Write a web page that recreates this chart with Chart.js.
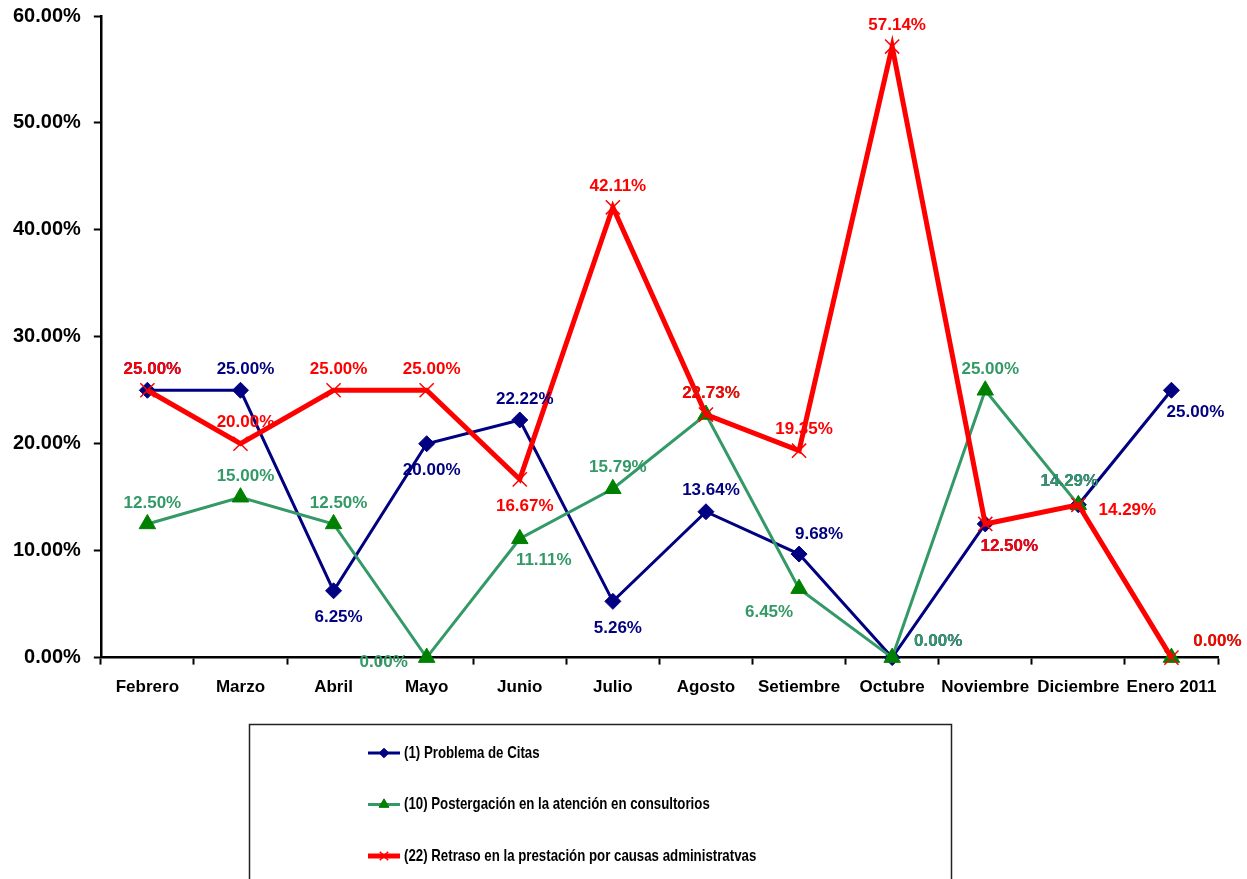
<!DOCTYPE html>
<html>
<head>
<meta charset="utf-8">
<title>Reclamos por mes</title>
<script src="https://cdn.jsdelivr.net/npm/chart.js@4.4.1/dist/chart.umd.min.js"></script>
<style>
    body { margin: 0; background: #fff; overflow: hidden; }
    #wrap { position: relative; width: 1247px; height: 888px; margin-top: -9px; }
</style>
</head>
<body>
<div id="wrap"><canvas id="reclamosChart"></canvas></div>
<script>
// Data
const months = ['Febrero', 'Marzo', 'Abril', 'Mayo', 'Junio', 'Julio', 'Agosto',
    'Setiembre', 'Octubre', 'Noviembre', 'Diciembre', 'Enero 2011'];
const citas = [25.00, 25.00, 6.25, 20.00, 22.22, 5.26, 13.64, 9.68, 0.00, 12.50, 14.29, 25.00];
const postergacion = [12.50, 15.00, 12.50, 0.00, 11.11, 15.79, 22.73, 6.45, 0.00, 25.00, 14.29, 0.00];
const retraso = [25.00, 20.00, 25.00, 25.00, 16.67, 42.11, 22.73, 19.35, 57.14, 12.50, 14.29, 0.00];
const yMin = 0, yMax = 60, yStep = 10;

// where each value label sits relative to its point (like Excel's label position)
const citasPos = ['t', 't', 'b', 'b', 't', 'b', 't', 'tr', 'r', 'br', 'tl', 'br'];
const postergacionPos = ['t', 't', 't', 'l', 'br', 't', 't', 'bl', 'r', 't', 'tl', 'r'];
const retrasoPos = ['t', 't', 't', 't', 'b', 't', 't', 't', 't', 'br', 'rb', 'r'];

const labelOffsets = {
    t: [5, -21], b: [5, 27], tr: [20, -20], br: [24, 22], r: [46, -16],
    rb: [49, 6], l: [-43, 5], bl: [-30, 24], tl: [-9, -23]
};

const FONT = "'Liberation Sans', Arial, sans-serif";

Chart.defaults.font.family = FONT;
Chart.defaults.color = '#000';

function pct(v) {
    return v.toFixed(2) + '%';
}

// value labels drawn next to each point
const valueLabels = {
    id: 'valueLabels',
    afterDatasetsDraw(chart) {
        const ctx = chart.ctx;
        ctx.save();
        ctx.font = 'bold 17px ' + FONT;
        ctx.textAlign = 'center';
        ctx.textBaseline = 'middle';
        chart.data.datasets.forEach((ds, i) => {
            const meta = chart.getDatasetMeta(i);
            ctx.fillStyle = ds.labelColor;
            meta.data.forEach((pt, j) => {
                const off = labelOffsets[ds.labelPos[j]];
                ctx.fillText(pct(ds.data[j]), pt.x + off[0], pt.y + off[1]);
            });
        });
        ctx.restore();
    }
};

// boxed legend under the chart, one entry per line
const boxLegend = {
    id: 'boxLegend',
    afterDraw(chart) {
        const ctx = chart.ctx;
        const top = 733.5;
        ctx.save();
        ctx.strokeStyle = '#222';
        ctx.lineWidth = 1.5;
        ctx.strokeRect(249.5, top, 702, 200);
        ctx.textBaseline = 'middle';
        chart.data.datasets.forEach((ds, i) => {
            const y = top + 28.5 + i * 51.5;
            ctx.strokeStyle = ds.borderColor;
            ctx.lineWidth = ds.legendLine;
            ctx.beginPath();
            ctx.moveTo(368, y);
            ctx.lineTo(400, y);
            ctx.stroke();
            ctx.fillStyle = ds.pointBackgroundColor;
            ctx.strokeStyle = ds.pointBorderColor;
            ctx.lineWidth = ds.pointBorderWidth;
            Chart.helpers.drawPoint(ctx, {
                pointStyle: ds.pointStyle,
                radius: ds.pointRadius * 0.6,
                rotation: 0,
                borderWidth: ds.pointBorderWidth
            }, 384, y);
            // narrow face, like the Arial Narrow legend of the original
            ctx.save();
            ctx.translate(404, y);
            ctx.scale(0.78, 1);
            ctx.font = 'bold 17px ' + FONT;
            ctx.fillStyle = '#000';
            ctx.fillText(ds.label, 0, 0);
            ctx.restore();
        });
        ctx.restore();
    }
};

const ctx = document.getElementById('reclamosChart');
new Chart(ctx, {
    type: 'line',
    data: {
        labels: months,
        datasets: [
            {
                label: '(1) Problema de Citas',
                data: citas,
                borderColor: '#000080',
                borderWidth: 3,
                pointStyle: 'rectRot',
                pointRadius: 8,
                pointBackgroundColor: '#000080',
                pointBorderColor: '#000080',
                pointBorderWidth: 1,
                labelColor: '#000080',
                labelPos: citasPos,
                legendLine: 3,
                order: 3,
                clip: false
            },
            {
                label: '(10) Postergación en la atención en consultorios',
                data: postergacion,
                borderColor: '#339966',
                borderWidth: 3,
                pointStyle: 'triangle',
                pointRadius: 9.5,
                pointBackgroundColor: '#008000',
                pointBorderColor: '#008000',
                pointBorderWidth: 1,
                labelColor: '#339966',
                labelPos: postergacionPos,
                legendLine: 3,
                order: 2,
                clip: false
            },
            {
                label: '(22) Retraso en la prestación por causas administratvas',
                data: retraso,
                borderColor: '#ff0000',
                borderWidth: 5,
                pointStyle: 'crossRot',
                pointRadius: 10,
                pointBackgroundColor: '#ff0000',
                pointBorderColor: '#ff0000',
                pointBorderWidth: 1.5,
                labelColor: '#ff0000',
                labelPos: retrasoPos,
                legendLine: 5,
                order: 1,
                clip: false
            }
        ]
    },
    options: {
        responsive: true,
        maintainAspectRatio: false,
        animation: false,
        layout: {
            padding: { left: 0, right: 29, top: 7, bottom: 168 }
        },
        elements: {
            line: { tension: 0 }
        },
        plugins: {
            legend: { display: false },
            tooltip: { enabled: false }
        },
        scales: {
            x: {
                offset: true,
                grid: {
                    offset: true,
                    drawOnChartArea: false,
                    drawTicks: true,
                    tickLength: 7,
                    tickWidth: 2,
                    color: '#000'
                },
                border: { display: true, color: '#000', width: 2.5 },
                ticks: {
                    font: { size: 17, weight: 'bold' },
                    padding: 13,
                    maxRotation: 0,
                    autoSkip: false
                }
            },
            y: {
                min: yMin,
                max: yMax,
                grid: {
                    drawOnChartArea: false,
                    drawTicks: true,
                    tickLength: 7,
                    tickWidth: 2,
                    color: '#000'
                },
                border: { display: true, color: '#000', width: 2.5 },
                ticks: {
                    stepSize: yStep,
                    font: { size: 20, weight: 'bold' },
                    padding: 13,
                    callback: function(value) {
                        return pct(value);
                    }
                }
            }
        }
    },
    plugins: [valueLabels, boxLegend]
});
</script>
</body>
</html>
